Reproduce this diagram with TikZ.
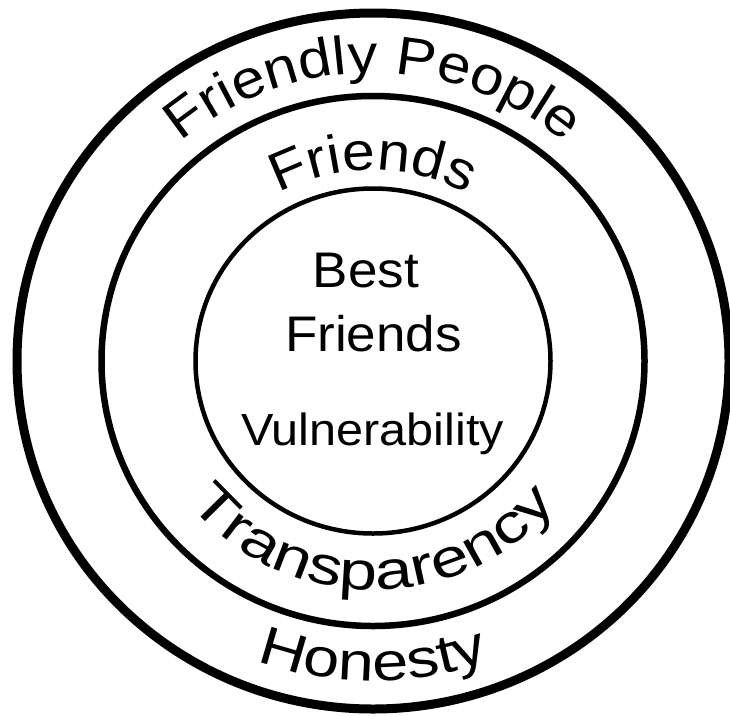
\documentclass[tikz,border=0pt]{standalone}
\usepackage{fontspec}
\setmainfont{Liberation Sans}
\newfontfamily\ctrfont{Liberation Sans}[FakeStretch=1.06]
\newfontfamily\vulfont{Liberation Sans}[FakeStretch=1.08]
\newfontfamily\fpfont{Liberation Sans}[FakeStretch=1.11]
\newfontfamily\frfont{Liberation Sans}[FakeStretch=1.09]
\newfontfamily\trfont{Liberation Sans}[FakeStretch=1.27]
\newfontfamily\hofont{Liberation Sans}[FakeStretch=1.2]
\usetikzlibrary{decorations.text}
\tikzset{
  ring/.style={draw=black, fill=none},
  center label/.style={anchor=base, inner sep=0pt, font=\ctrfont\fontsize{50}{60}\selectfont},
  arc text/.style={decorate, decoration={text along path, text align=center, text={#1}}}
}
\begin{document}
\begin{tikzpicture}[x=1pt,y=1pt]
\useasboundingbox (0,0) rectangle (730,-715);
\coordinate (C) at (373,-361);
% rings
\draw[ring, line width=9pt] (C) ellipse [x radius=356pt, y radius=348pt];
\draw[ring, line width=6.5pt] (C) ellipse [x radius=271.5pt, y radius=265pt];
\draw[ring, line width=4.5pt] (C) ellipse [x radius=177.5pt, y radius=172.5pt];
% centre texts
\node[center label] (best) at (366,-287) {Best};
\node[center label] (friends) at (373.5,-351) {Friends};
\node[center label, font=\vulfont\fontsize{45}{54}\selectfont] (vuln) at (372.5,-445) {Vulnerability};
% curved texts
\path[arc text={|\fpfont\fontsize{54}{64}\selectfont|Friendly People}]
  ([shift={(178:295pt and 288pt)}]C) arc[start angle=178, end angle=2, x radius=295pt, y radius=288pt];
\path[arc text={|\frfont\fontsize{54}{64}\selectfont|Friends}]
  ([shift={(178:196pt and 191pt)}]C) arc[start angle=178, end angle=2, x radius=196pt, y radius=191pt];
\path[arc text={|\trfont\fontsize{54}{64}\selectfont|Transparency}]
  ([shift={(182:235pt and 229pt)}]C) arc[start angle=182, end angle=358, x radius=235pt, y radius=229pt];
\path[arc text={|\hofont\fontsize{54}{64}\selectfont|Honesty}]
  ([shift={(182:328pt and 320pt)}]C) arc[start angle=182, end angle=358, x radius=328pt, y radius=320pt];
\end{tikzpicture}
\end{document}
